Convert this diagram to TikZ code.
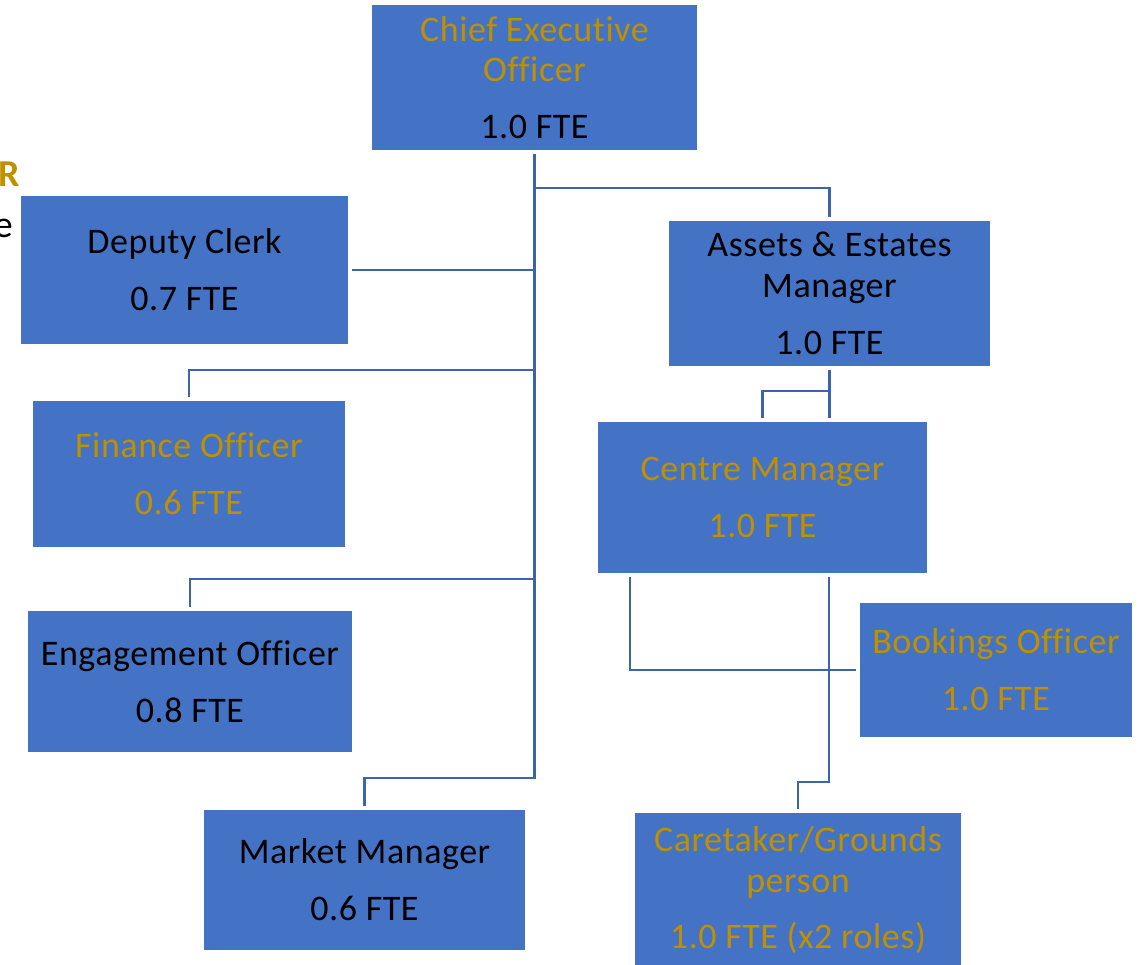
\documentclass[tikz,border=0pt]{standalone}
\usepackage{fontspec}
\setmainfont{Carlito}[Ligatures=NoCommon, LetterSpace=1.5]
\usetikzlibrary{calc}
\definecolor{boxblue}{HTML}{4472C4}
\definecolor{linkblue}{HTML}{3B64AD}
\definecolor{gold}{HTML}{BF9000}
\tikzset{
  role/.style={rectangle, fill=boxblue, inner sep=0pt, align=center,
    font=\fontsize{36}{40.8}\selectfont},
  goldtext/.style={text=gold},
  blacktext/.style={text=black},
  conn/.style={draw=linkblue, line width=2.4pt, shorten <=4pt, shorten >=4pt}
}
\begin{document}
\begin{tikzpicture}[x=1pt, y=-1pt]
\useasboundingbox (0,0) rectangle (1143,965);

% fragments of text running in from the left
\node[anchor=base east, inner sep=0pt, text=gold, font=\fontsize{38}{40}\selectfont\bfseries] (frR) at (20,187) {R};
\node[anchor=base east, inner sep=0pt, text=black, font=\fontsize{38}{40}\selectfont] (frE) at (13,238) {e};

% roles
\node[role, goldtext, minimum width=325pt, minimum height=145pt] (ceo) at (534.5,77.5)
  {Chief Executive\\Officer\\[16pt]{\color{black}1.0 FTE}};
\node[role, blacktext, minimum width=327pt, minimum height=148pt] (deputy) at (184.5,270)
  {Deputy Clerk\\[16pt]0.7 FTE};
\node[role, blacktext, minimum width=321pt, minimum height=145pt] (assets) at (829.5,293.5)
  {Assets \& Estates\\Manager\\[16pt]1.0 FTE};
\node[role, goldtext, minimum width=312pt, minimum height=146pt] (finance) at (189,474)
  {Finance Officer\\[16pt]0.6 FTE};
\node[role, goldtext, minimum width=329pt, minimum height=151pt] (centre) at (762.5,497.5)
  {Centre Manager\\[16pt]1.0 FTE};
\node[role, blacktext, minimum width=324pt, minimum height=141pt] (engage) at (190,681.5)
  {Engagement Officer\\[16pt]0.8 FTE};
\node[role, goldtext, minimum width=272pt, minimum height=134pt] (bookings) at (996,670)
  {Bookings Officer\\[16pt]1.0 FTE};
\node[role, blacktext, minimum width=321pt, minimum height=140pt] (market) at (364.5,880)
  {Market Manager\\[16pt]0.6 FTE};
\node[role, goldtext, minimum width=326pt, minimum height=154pt] (caretaker) at (798,890)
  {Caretaker/Grounds\\person\\[16pt]1.0 FTE (x2 roles)};

% junctions on the chief executive's trunk line
\coordinate (jAssets) at ($(ceo.south)+(0,38)$);
\coordinate (jFinance) at ($(ceo.south)+(0,220)$);
\coordinate (jEngage) at ($(ceo.south)+(0,429)$);
\coordinate (jMarket) at ($(ceo.south)+(0,628)$);
\coordinate (jCentre) at ($(assets.south)+(0,25)$);

% chief executive reports
\draw[conn] (ceo.south) -- (jMarket) -| (market.north);
\draw[conn, shorten <=0pt] (jAssets) -| (assets.north);
\draw[conn, shorten <=0pt] (jAssets |- deputy.east) -- (deputy.east);
\draw[conn, shorten <=0pt] (jFinance) -| (finance.north);
\draw[conn, shorten <=0pt] (jEngage) -| (engage.north);

% assets & estates reports
\draw[conn] (assets.south) -- (assets.south |- centre.north);
\draw[conn, shorten <=0pt] (jCentre) -| (centre.north);

% centre manager reports
\draw[conn] ([xshift=-132.5pt]centre.south) |- (bookings.west);
\draw[conn] ([xshift=66.5pt]centre.south) -- ++(0,209) -| (caretaker.north);
\end{tikzpicture}
\end{document}
